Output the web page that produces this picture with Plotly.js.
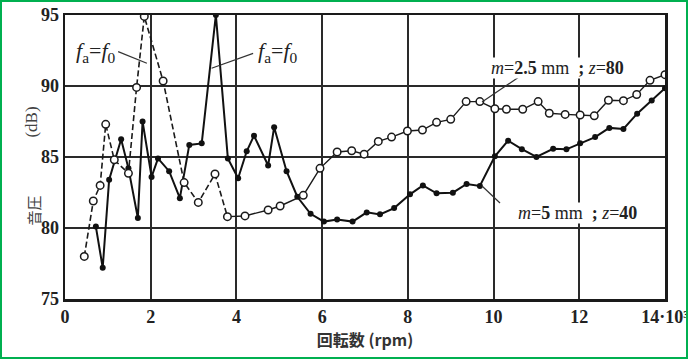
<!DOCTYPE html>
<html>
<head>
<meta charset="utf-8">
<script src="https://cdn.plot.ly/plotly-3.0.1.min.js"></script>
<style>
html,body{margin:0;padding:0;background:#fff;}
#wrap{position:relative;width:688px;height:359px;}
#chart{width:688px;height:359px;}
#frame{position:absolute;left:0;top:0;width:688px;height:359px;box-sizing:border-box;border:2px solid #00b050;pointer-events:none;}
</style>
</head>
<body>
<div id="wrap"><div id="chart"></div><div id="frame"></div></div>
<script>
// Open-circle series (m = 2.5 mm ; z = 80)
var openX = [0.45,0.66,0.82,0.95,1.15,1.48,1.67,1.85,2.29,2.78,3.11,3.5,3.79,4.2,4.74,5.02,5.56,5.95,6.35,6.69,6.98,7.31,7.62,7.99,8.34,8.67,9.0,9.36,9.68,10.03,10.3,10.68,11.04,11.3,11.67,12.02,12.35,12.68,13.03,13.34,13.65,14.0];
var openY = [78.0,81.9,83.0,87.3,84.8,83.85,89.9,94.9,90.35,83.2,81.8,83.8,80.8,80.85,81.27,81.55,82.3,84.2,85.35,85.44,85.2,86.1,86.4,86.83,86.9,87.44,87.65,88.9,88.9,88.4,88.36,88.36,88.9,88.08,88.0,87.96,87.9,89.0,88.97,89.4,90.4,90.8];
var openDashedCount = 13; // first points drawn with a dashed line

// Filled-dot series (m = 5 mm ; z = 40)
var fillX = [0.72,0.88,1.03,1.31,1.48,1.7,1.81,2.02,2.17,2.43,2.68,2.9,3.19,3.52,3.8,4.04,4.24,4.41,4.74,4.88,5.17,5.42,5.73,6.04,6.35,6.71,7.04,7.35,7.68,8.05,8.35,8.67,9.05,9.37,9.68,10.03,10.34,10.66,11.0,11.39,11.7,12.02,12.37,12.7,13.03,13.35,13.69,14.0];
var fillY = [80.1,77.2,83.4,86.25,84.2,80.7,87.5,83.6,84.9,84.0,82.1,85.85,85.96,95.0,84.9,83.5,85.4,86.5,84.4,87.1,84.0,82.2,81.0,80.45,80.6,80.45,81.1,80.96,81.4,82.37,83.0,82.44,82.49,83.1,82.96,85.05,86.15,85.55,85.0,85.58,85.54,85.96,86.4,87.05,86.97,88.05,88.98,89.84];

var xTickVals = [0,2,4,6,8,10,12,14];
var xTickText = ['0','2','4','6','8','10','12','14·10³'];
var yTickVals = [75,80,85,90,95];
var yTickText = ['75','80','85','90','95'];

var serif = 'Liberation Serif, DejaVu Serif, serif';
var jp = 'Noto Sans CJK JP, sans-serif';
var bold = function(a){ return a.map(function(s){ return '<b>' + s + '</b>'; }); };

var traces = [
  {x: openX.slice(0, openDashedCount), y: openY.slice(0, openDashedCount), mode:'lines',
   line:{color:'#1a1a1a', width:1.6, dash:'6px,3px'}, hoverinfo:'skip'},
  {x: openX.slice(openDashedCount-1), y: openY.slice(openDashedCount-1), mode:'lines',
   line:{color:'#1a1a1a', width:1.4}, hoverinfo:'skip'},
  {x: fillX, y: fillY, mode:'lines+markers',
   line:{color:'#111', width:2},
   marker:{color:'#111', size:6, symbol:'circle'}},
  {x: openX, y: openY, mode:'markers',
   marker:{color:'#fff', size:7.5, symbol:'circle', line:{color:'#1a1a1a', width:1.5}}}
];

var ann = [
  {text:'<i>f</i><sub>a</sub>=<i>f</i><sub>0</sub>', x:0.72, y:92.4, xref:'x', yref:'y', showarrow:false,
   font:{family:serif, size:22, color:'#222'}},
  {text:'<i>f</i><sub>a</sub>=<i>f</i><sub>0</sub>', x:4.97, y:92.4, xref:'x', yref:'y', showarrow:false,
   font:{family:serif, size:22, color:'#222'}},
  {text:'<i>m</i>=<b>2.5</b>\u00a0mm\u00a0\u00a0<b>;</b>\u00a0<i>z</i>=<b>80</b>', x:11.5, y:91.3, xref:'x', yref:'y', showarrow:false,
   bgcolor:'#fff', borderpad:0, font:{family:serif, size:18, color:'#222'}},
  {text:'<i>m</i>=<b>5</b>\u00a0mm\u00a0\u00a0<b>;</b>\u00a0<i>z</i>=<b>40</b>', x:11.95, y:81.06, xref:'x', yref:'y', showarrow:false,
   bgcolor:'#fff', borderpad:0, font:{family:serif, size:18, color:'#222'}},
  {text:'音圧', x:-0.075, y:0.25, xref:'paper', yref:'paper', showarrow:false, textangle:-90,
   font:{family:jp, size:15, color:'#444'}},
  {text:'(dB)', x:-0.075, y:0.623, xref:'paper', yref:'paper', showarrow:false, textangle:-90,
   font:{family:serif, size:17, color:'#444'}}
];

var leader = function(x0,y0,x1,y1){
  return {type:'line', xref:'x', yref:'y', x0:x0, y0:y0, x1:x1, y1:y1, line:{color:'#333', width:1.2}};
};

var layout = {
  width:688, height:359,
  margin:{l:65, r:23, t:15, b:60},
  paper_bgcolor:'#fff', plot_bgcolor:'#fff',
  showlegend:false,
  xaxis:{range:[0,14], tickvals:xTickVals, ticktext:bold(xTickText), showgrid:true, gridcolor:'#2a2a2a', gridwidth:2,
         zeroline:false, showline:true, linecolor:'#1a1a1a', linewidth:2.5, mirror:true, ticks:'',
         ticklabeloverflow:'allow',
         tickfont:{family:serif, size:18, color:'#222', weight:700},
         title:{text:'<b>回転数 (rpm)</b>', font:{family:jp, size:16, color:'#333'}, standoff:6}},
  yaxis:{range:[75,95], tickvals:yTickVals, ticktext:bold(yTickText), showgrid:true, gridcolor:'#2a2a2a', gridwidth:2,
         zeroline:false, showline:true, linecolor:'#1a1a1a', linewidth:2.5, mirror:true, ticks:'',
         tickfont:{family:serif, size:18, color:'#222', weight:700}},
  annotations: ann,
  shapes:[
    leader(1.24,92.42,1.91,91.6),
    leader(4.39,92.3,3.42,91.25),
    leader(10.66,90.77,9.73,88.87),
    leader(10.15,81.76,9.73,82.96)
  ]
};

Plotly.newPlot('chart', traces, layout, {displayModeBar:false, staticPlot:true});
</script>
</body>
</html>
